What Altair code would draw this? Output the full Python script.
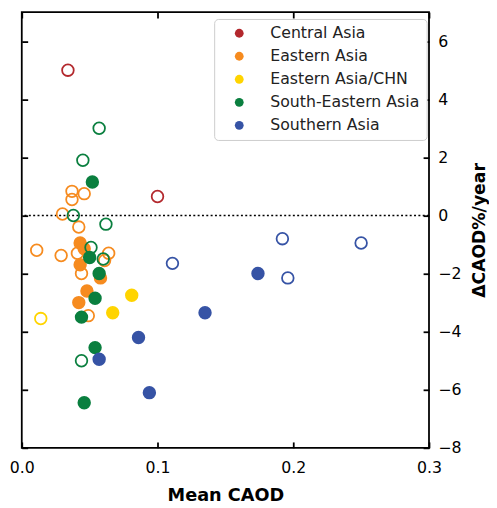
import altair as alt
import pandas as pd

# ---- data ----
regions = ["Central Asia", "Eastern Asia", "Eastern Asia/CHN", "South-Eastern Asia", "Southern Asia"]
colors = ["#b3282d", "#f68b1f", "#ffd400", "#0a7f3f", "#3653a5"]

central_open_x = [0.034, 0.100]
central_open_y = [5.0, 0.65]

east_open_x = [0.037, 0.046, 0.037, 0.030, 0.042, 0.011, 0.029, 0.041, 0.064, 0.044, 0.049, 0.061]
east_open_y = [0.83, 0.75, 0.55, 0.05, -0.40, -1.20, -1.38, -1.30, -1.30, -2.00, -3.45, -1.55]
east_fill_x = [0.043, 0.046, 0.043, 0.058, 0.048, 0.042]
east_fill_y = [-0.95, -1.15, -1.70, -2.15, -2.60, -3.00]

chn_open_x = [0.014]
chn_open_y = [-3.55]
chn_fill_x = [0.081, 0.067]
chn_fill_y = [-2.75, -3.35]

se_open_x = [0.057, 0.045, 0.038, 0.062, 0.051, 0.060, 0.044]
se_open_y = [3.0, 1.9, 0.0, -0.30, -1.10, -1.50, -5.00]
se_fill_x = [0.052, 0.050, 0.057, 0.054, 0.044, 0.054, 0.046]
se_fill_y = [1.15, -1.45, -2.00, -2.85, -3.50, -4.55, -6.45]

south_open_x = [0.111, 0.192, 0.250, 0.196]
south_open_y = [-1.65, -0.80, -0.95, -2.15]
south_fill_x = [0.174, 0.135, 0.086, 0.057, 0.094]
south_fill_y = [-2.00, -3.35, -4.20, -4.95, -6.10]

x_ticks = [0.0, 0.1, 0.2, 0.3]
y_ticks = [-8, -6, -4, -2, 0, 2, 4, 6]

# ---- build table (drawing order follows the reference) ----
groups = [
    ("Central Asia", central_open_x, central_open_y, False),
    ("Eastern Asia", east_open_x, east_open_y, False),
    ("Eastern Asia", east_fill_x, east_fill_y, True),
    ("Eastern Asia/CHN", chn_open_x, chn_open_y, False),
    ("Eastern Asia/CHN", chn_fill_x, chn_fill_y, True),
    ("South-Eastern Asia", se_open_x, se_open_y, False),
    ("South-Eastern Asia", se_fill_x, se_fill_y, True),
    ("Southern Asia", south_open_x, south_open_y, False),
    ("Southern Asia", south_fill_x, south_fill_y, True),
]
rows = []
for reg, xs_, ys_, filled in groups:
    for xv, yv in zip(xs_, ys_):
        rows.append({"region": reg, "caod": xv, "trend": yv, "filled": filled, "idx": len(rows)})
df = pd.DataFrame(rows)
zero_df = pd.DataFrame({"v": [0]})

FONT = "DejaVu Sans"
xs = alt.Scale(domain=[0, 0.3], nice=False, zero=False)
ys = alt.Scale(domain=[-8, 7], nice=False, zero=False)
cs = alt.Scale(domain=regions, range=colors)

tick_common = dict(offset=-6, tickSize=6, domain=False, grid=False, tickColor="black", tickWidth=1.8)

x_bottom = alt.Axis(orient="bottom", values=x_ticks, format=".1f", title="Mean CAOD",
                    labelPadding=12, labelFlush=False, labelFontSize=16, labelColor="black",
                    labelFont=FONT, titleFont=FONT, titleFontSize=18, titleFontWeight="bold",
                    titleColor="black", titlePadding=12, **tick_common)
x_top = alt.Axis(orient="top", values=x_ticks, labels=False, title=None, **tick_common)
y_right = alt.Axis(orient="right", values=y_ticks, format="d", title="ΔCAOD%/year",
                   labelPadding=9, labelFlush=False, labelFontSize=16, labelColor="black",
                   labelFont=FONT, titleFont=FONT, titleFontSize=17.5, titleFontWeight="bold",
                   titleColor="black", titleAngle=270, titleBaseline="top", titlePadding=10,
                   **tick_common)
y_left = alt.Axis(orient="left", values=y_ticks, labels=False, title=None, **tick_common)

zero_line = alt.Chart(zero_df).mark_rule(color="black", strokeWidth=1.6, strokeDash=[2, 2.4]).encode(
    y=alt.Y("v:Q", scale=ys, axis=None)
)

frame_axes = alt.Chart(df).mark_point(opacity=0).encode(
    x=alt.X("caod:Q", scale=xs, axis=x_top),
    y=alt.Y("trend:Q", scale=ys, axis=y_left),
)

points = alt.Chart(df).mark_circle(size=140, strokeWidth=1.8, opacity=1).encode(
    x=alt.X("caod:Q", scale=xs, axis=x_bottom),
    y=alt.Y("trend:Q", scale=ys, axis=y_right),
    color=alt.Color("region:N", scale=cs, legend=alt.Legend(
        title=None, orient="none", legendX=195.6, legendY=7,
        symbolType="circle", symbolSize=80, symbolStrokeWidth=0, symbolOffset=11,
        labelOffset=23.5, labelFontSize=16, labelFont=FONT, labelColor="#222222",
        labelLimit=300, rowPadding=7.4, padding=6.5, fillColor="white",
        strokeColor="#cccccc", cornerRadius=4)),
    stroke=alt.Stroke("region:N", scale=cs, legend=None),
    fillOpacity=alt.condition("datum.filled", alt.value(1), alt.value(0)),
    order=alt.Order("idx:Q"),
)

chart = alt.layer(zero_line, frame_axes, points).resolve_axis(
    x="independent", y="independent"
).properties(
    width=414, height=443,
    autosize=alt.AutoSizeParams(type="none"),
    padding={"left": 14, "top": 0, "right": 61, "bottom": 57},
).configure(
    font=FONT
).configure_view(
    stroke="black", strokeWidth=1.8
)

chart.save("out.html", embed_options={"renderer": "svg", "actions": False})
